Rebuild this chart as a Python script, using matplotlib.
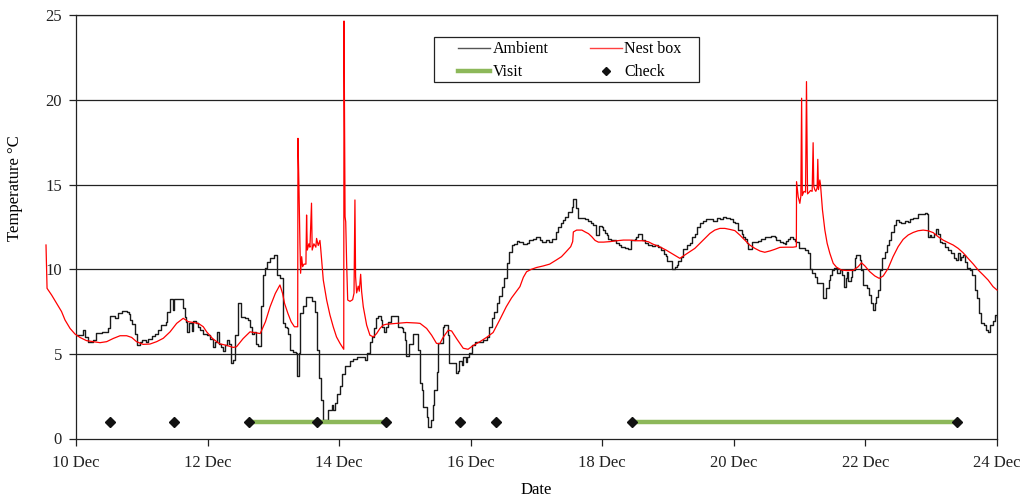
import matplotlib
matplotlib.use("Agg")
import matplotlib.pyplot as plt
from matplotlib.lines import Line2D
from matplotlib.patches import Rectangle

plt.rcParams['font.family'] = ['Liberation Serif', 'DejaVu Serif']

# ---------------- data (x in days of December) ----------------
amb_day = [10.00, 10.10, 10.14, 10.19, 10.26, 10.30, 10.40, 10.49, 10.52, 10.60, 10.64, 10.70,
           10.77, 10.80, 10.82, 10.85, 10.89, 10.92, 10.97, 11.01, 11.06, 11.10, 11.15, 11.20,
           11.25, 11.29, 11.37, 11.39, 11.43, 11.47, 11.49, 11.62, 11.65, 11.67, 11.69, 11.72,
           11.76, 11.78, 11.82, 11.86, 11.89, 11.935, 11.99, 12.04, 12.08, 12.11, 12.14, 12.17,
           12.21, 12.24, 12.26, 12.29, 12.33, 12.355, 12.39, 12.42, 12.47, 12.51, 12.57, 12.62,
           12.645, 12.67, 12.70, 12.74, 12.77, 12.81, 12.85, 12.88, 12.91, 12.95, 13.01, 13.06,
           13.10, 13.14, 13.17, 13.20, 13.23, 13.26, 13.30, 13.34, 13.353, 13.39, 13.41, 13.455,
           13.495, 13.58, 13.64, 13.67, 13.70, 13.73, 13.755, 13.835, 13.885, 13.91, 13.935,
           13.96, 14.01, 14.036, 14.087, 14.17, 14.21, 14.265, 14.39, 14.427, 14.468, 14.503,
           14.529, 14.559, 14.595, 14.63, 14.656, 14.686, 14.711, 14.747, 14.782, 14.888, 14.95,
           14.975, 15.00, 15.015, 15.066, 15.127, 15.193, 15.228, 15.254, 15.28, 15.33, 15.355,
           15.39, 15.42, 15.446, 15.48, 15.506, 15.572, 15.592, 15.648, 15.673, 15.77, 15.80,
           15.825, 15.86, 15.886, 15.926, 15.947, 15.972, 16.013, 16.064, 16.19, 16.24, 16.276,
           16.317, 16.352, 16.393, 16.428, 16.469, 16.504, 16.545, 16.585, 16.62, 16.656, 16.697,
           16.737, 16.788, 16.849, 16.89, 16.95, 16.99, 17.05, 17.09, 17.14, 17.19, 17.23,
           17.295, 17.33, 17.366, 17.396, 17.432, 17.472, 17.533, 17.558, 17.60, 17.635, 17.736,
           17.787, 17.822, 17.853, 17.903, 17.944, 17.99, 18.004, 18.04, 18.065, 18.09, 18.14,
           18.216, 18.257, 18.292, 18.343, 18.394, 18.429, 18.495, 18.52, 18.546, 18.597, 18.647,
           18.698, 18.749, 18.799, 18.85, 18.90, 18.936, 18.967, 18.987, 19.053, 19.104, 19.129,
           19.155, 19.19, 19.22, 19.29, 19.33, 19.37, 19.407, 19.443, 19.483, 19.524, 19.574,
           19.686, 19.737, 19.787, 19.838, 19.888, 19.939, 19.98, 20.015, 20.066, 20.117, 20.142,
           20.167, 20.193, 20.218, 20.27, 20.37, 20.42, 20.47, 20.52, 20.572, 20.623, 20.648,
           20.70, 20.75, 20.775, 20.80, 20.826, 20.85, 20.90, 20.927, 20.952, 20.993, 21.079,
           21.13, 21.155, 21.195, 21.236, 21.27, 21.353, 21.403, 21.44, 21.464, 21.49, 21.525,
           21.565, 21.606, 21.641, 21.672, 21.702, 21.722, 21.737, 21.788, 21.803, 21.839,
           21.864, 21.915, 21.94, 21.966, 22.026, 22.057, 22.092, 22.118, 22.143, 22.168, 22.193,
           22.229, 22.259, 22.295, 22.33, 22.36, 22.396, 22.431, 22.462, 22.512, 22.548, 22.60,
           22.65, 22.675, 22.726, 22.766, 22.80, 22.852, 22.903, 22.938, 22.953, 22.98, 23.00,
           23.04, 23.07, 23.105, 23.13, 23.17, 23.206, 23.257, 23.307, 23.343, 23.383, 23.41,
           23.434, 23.46, 23.485, 23.51, 23.546, 23.586, 23.627, 23.662, 23.698, 23.728, 23.764,
           23.799, 23.83, 23.865, 23.90, 23.94, 23.966, 24.00]
amb_val = [6.1, 6.4, 6.0, 5.7, 5.8, 6.25, 6.3, 6.5, 7.25, 7.1, 7.4, 7.55,
           7.45, 7.35, 7.0, 6.75, 6.2, 5.55, 5.7, 5.8, 5.7, 5.9, 6.05, 6.2,
           6.4, 6.7, 6.9, 7.5, 8.25, 7.6, 8.25, 7.7, 7.2, 6.9, 6.3, 6.8,
           6.35, 6.95, 6.8, 6.6, 6.4, 6.2, 6.1, 5.9, 5.42, 5.72, 6.3, 5.6,
           5.4, 5.18, 5.5, 5.8, 5.6, 4.48, 4.64, 6.1, 8.0, 7.2, 7.1, 7.0,
           6.6, 6.2, 6.3, 5.6, 5.46, 7.8, 9.65, 10.05, 10.45, 10.64, 10.84, 9.65,
           9.46, 6.84, 6.6, 6.5, 6.15, 5.23, 5.13, 5.03, 3.7, 5.03, 7.43, 7.8,
           8.33, 8.1, 7.5, 5.2, 3.6, 2.27, 1.1, 1.7, 2.0, 1.7, 2.1,
           2.6, 3.1, 3.8, 4.3, 4.55, 4.7, 4.8, 4.65, 5.03, 5.72, 6.0,
           6.5, 7.1, 7.25, 7.0, 6.6, 6.3, 6.6, 6.9, 7.23, 6.6, 6.5,
           6.3, 5.8, 4.87, 5.57, 6.17, 5.23, 3.26, 2.87, 1.88, 1.29, 0.66,
           1.09, 1.98, 2.87, 3.95, 5.62, 6.6, 6.7, 6.1, 4.44, 3.89, 4.0,
           4.6, 4.34, 4.83, 4.5, 4.83, 5.03, 5.52, 5.72, 5.8, 6.0, 6.6,
           7.1, 7.5, 8.0, 8.4, 8.97, 9.5, 10.34, 11.03, 11.42, 11.5, 11.67,
           11.6, 11.5, 11.52, 11.7, 11.76, 11.88, 11.72, 11.62, 11.72, 11.62, 11.76,
           12.2, 12.5, 12.75, 12.9, 13.1, 13.4, 13.7, 14.12, 13.6, 13.0, 12.95,
           12.87, 12.75, 12.6, 12.0, 12.55, 12.5, 12.3, 12.15, 12.0, 11.8, 11.72,
           11.52, 11.42, 11.33, 11.23, 11.17, 11.7, 11.8, 11.92, 12.1, 11.7, 11.55,
           11.42, 11.38, 11.42, 11.33, 11.13, 10.92, 10.78, 10.5, 10.0, 10.15, 10.25,
           10.5, 10.74, 11.17, 11.43, 11.57, 11.92, 12.1, 12.5, 12.75, 12.87, 12.94,
           12.87, 13.03, 12.94, 13.1, 13.0, 12.94, 12.8, 12.7, 12.3, 12.1, 11.92,
           11.76, 11.52, 11.17, 11.63, 11.68, 11.76, 11.88, 11.92, 11.96, 11.92, 11.72,
           11.63, 11.57, 11.48, 11.68, 11.76, 11.88, 11.76, 11.68, 11.63, 11.23, 11.13,
           10.93, 10.0, 9.75, 9.56, 9.16, 8.28, 8.87, 9.36, 9.66, 9.95, 10.1,
           9.76, 9.95, 9.66, 8.97, 9.46, 9.85, 9.32, 9.52, 9.95, 10.64,
           10.84, 10.54, 9.95, 9.07, 8.87, 8.48, 7.98, 7.59, 7.98, 8.38, 8.77,
           9.95, 10.64, 11.03, 11.43, 11.72, 12.21, 12.6, 12.9, 12.8, 12.75, 12.87,
           12.8, 12.94, 13.0, 13.05, 13.26, 13.26, 13.3, 13.26, 11.92, 12.0, 11.92,
           12.1, 12.35, 12.1, 11.63, 11.55, 11.33, 11.13, 10.93, 10.64, 10.54, 10.93,
           10.54, 10.74, 10.84, 10.44, 10.05, 9.95, 9.66, 8.77, 8.28, 7.39, 6.8,
           6.7, 6.41, 6.31, 6.7, 6.96, 7.3, 7.2]

nest_day = [9.544, 9.56, 9.63, 9.706, 9.78, 9.833, 9.91, 9.985, 10.06, 10.16, 10.26, 10.365,
            10.466, 10.567, 10.67, 10.77, 10.846, 10.92, 11.02, 11.125, 11.226, 11.327, 11.43,
            11.53, 11.63, 11.707, 11.78, 11.86, 11.935, 11.986, 12.077, 12.18, 12.29, 12.39,
            12.44, 12.54, 12.645, 12.72, 12.80, 12.88, 12.95, 13.03, 13.10, 13.14, 13.17, 13.22,
            13.27, 13.32, 13.37, 13.374, 13.389, 13.404, 13.414, 13.43, 13.445, 13.465, 13.495,
            13.505, 13.516, 13.54, 13.556, 13.58, 13.59, 13.616, 13.646, 13.657, 13.682, 13.708,
            13.718, 13.759, 13.81, 13.86, 13.91, 13.96, 14.013, 14.07, 14.074, 14.09, 14.10,
            14.114, 14.13, 14.165, 14.205, 14.226, 14.24, 14.25, 14.266, 14.29, 14.306, 14.327,
            14.342, 14.367, 14.418, 14.468, 14.52, 14.57, 14.62, 14.67, 14.72, 14.874, 15.026,
            15.18, 15.23, 15.33, 15.406, 15.48, 15.53, 15.58, 15.66, 15.71, 15.785, 15.886,
            15.96, 16.04, 16.14, 16.24, 16.34, 16.44, 16.54, 16.62, 16.748, 16.80, 16.849,
            16.92, 17.00, 17.10, 17.20, 17.30, 17.38, 17.45, 17.52, 17.55, 17.56, 17.61, 17.69,
            17.74, 17.79, 17.84, 17.89, 17.94, 18.02, 18.12, 18.22, 18.32, 18.42, 18.52, 18.62,
            18.70, 18.77, 18.87, 18.97, 19.07, 19.14, 19.18, 19.255, 19.33, 19.407, 19.483,
            19.56, 19.635, 19.71, 19.787, 19.863, 19.939, 20.015, 20.09, 20.167, 20.24, 20.32,
            20.40, 20.47, 20.55, 20.62, 20.70, 20.80, 20.90, 20.95, 20.953, 20.978, 21.003,
            21.018, 21.03, 21.04, 21.065, 21.09, 21.104, 21.12, 21.145, 21.165, 21.19, 21.205,
            21.215, 21.23, 21.246, 21.266, 21.276, 21.286, 21.307, 21.317, 21.347, 21.383,
            21.418, 21.459, 21.51, 21.56, 21.636, 21.712, 21.814, 21.89, 21.94, 21.99, 22.067,
            22.143, 22.209, 22.27, 22.345, 22.42, 22.497, 22.573, 22.65, 22.726, 22.80, 22.878,
            22.953, 23.03, 23.105, 23.18, 23.257, 23.333, 23.41, 23.485, 23.56, 23.64, 23.714,
            23.79, 23.865, 23.94, 24.00]
nest_val = [11.43, 8.87, 8.47, 7.98, 7.5, 7.0, 6.5, 6.17, 5.97, 5.78, 5.72, 5.66,
            5.72, 5.91, 6.07, 6.07, 5.97, 5.72, 5.56, 5.58, 5.72, 5.92, 6.3,
            6.8, 7.1, 6.9, 6.85, 6.8, 6.6, 6.3, 5.9, 5.6, 5.5, 5.38,
            5.42, 5.9, 6.3, 6.25, 6.2, 6.9, 7.78, 8.57, 9.07, 8.57, 7.98, 7.4,
            6.9, 6.6, 6.6, 17.73, 14.87, 11.5, 9.76, 10.74, 10.15, 10.3, 10.3,
            13.2, 11.13, 11.5, 11.3, 13.9, 11.13, 11.5, 11.3, 11.82, 11.4, 11.7,
            11.3, 9.36, 8.18, 7.3, 6.6, 6.0, 5.62, 5.27, 24.66, 13.1, 12.8,
            10.35, 8.18, 8.1, 8.2, 8.58, 14.09, 9.56, 8.6, 9.0, 8.7, 9.7,
            8.67, 7.78, 6.7, 6.1, 6.0, 6.2, 6.5, 6.7, 6.75, 6.8, 6.85,
            6.82, 6.8, 6.5, 6.1, 5.62, 5.6, 5.97, 6.4, 6.35, 5.9, 5.33,
            5.27, 5.5, 5.72, 5.97, 6.26, 7.0, 7.78, 8.3, 8.97, 9.52, 9.85,
            9.99, 10.1, 10.19, 10.3, 10.54, 10.74, 11.03, 11.33, 11.63, 12.2, 12.31, 12.31,
            12.2, 12.1, 11.92, 11.7, 11.6, 11.6, 11.63, 11.68, 11.72, 11.72, 11.68, 11.68,
            11.62, 11.48, 11.33, 11.13, 10.9, 10.74, 10.64, 10.84, 11.03, 11.23, 11.52,
            11.82, 12.11, 12.31, 12.41, 12.41, 12.35, 12.28, 12.02, 11.72, 11.43, 11.23,
            11.07, 11.0, 11.08, 11.17, 11.29, 11.3, 11.3, 11.33, 15.17, 14.28, 13.89,
            14.3, 20.1, 14.35, 14.6, 14.55, 21.08, 14.45, 14.55, 14.65, 14.6, 17.47,
            14.9, 14.7, 14.6, 14.8, 16.49, 14.7, 15.27, 15.0, 13.5, 12.32,
            11.53, 10.94, 10.35, 10.12, 9.95, 9.92, 9.93, 10.15, 10.38, 10.2, 9.85,
            9.6, 9.46, 9.6, 10.05, 10.74, 11.33, 11.76, 12.02, 12.17, 12.27, 12.31,
            12.27, 12.16, 11.92, 11.72, 11.57, 11.43, 11.23, 10.97, 10.64, 10.3, 9.95,
            9.66, 9.36, 8.97, 8.77]

check_day = [10.517, 11.49, 12.634, 13.657, 14.707, 15.836, 16.39, 18.445, 23.394]
check_val = [1, 1, 1, 1, 1, 1, 1, 1, 1]
visit_start = [12.634, 18.445]
visit_end = [14.707, 23.394]
visit_level = 1

x_ticks = [10, 12, 14, 16, 18, 20, 22, 24]
x_ticklabels = ['10 Dec', '12 Dec', '14 Dec', '16 Dec', '18 Dec', '20 Dec', '22 Dec', '24 Dec']
y_ticks = [0, 5, 10, 15, 20, 25]

# ---------------- figure ----------------
W, H = 1036, 501
fig = plt.figure(figsize=(W / 100, H / 100), dpi=100)
ax = fig.add_axes([76 / W, 1 - 438.5 / H, (997 - 76) / W, (438.5 - 15.25) / H])

for y in y_ticks[1:]:
    ax.axhline(y, color='#222222', lw=0.9, zorder=1)

ax.step(amb_day, amb_val, where='post', color='#1a1a1a', lw=1.0, zorder=3)
ax.plot(nest_day, nest_val, color='#ff0000', lw=0.9, zorder=4, clip_on=False)

green = '#8db85a'
for s, e in zip(visit_start, visit_end):
    ax.plot([s, e], [visit_level, visit_level], color=green, lw=3.2, zorder=5,
            solid_capstyle='butt')
ax.plot(check_day, check_val, linestyle='none', marker='D', markersize=5,
        color='#111111', zorder=6)

ax.set_xlim(10, 24)
ax.set_ylim(0, 25)
ax.set_xticks(x_ticks)
ax.set_xticklabels(x_ticklabels)
ax.set_yticks(y_ticks)
ax.tick_params(axis='both', direction='out', length=5, width=0.9, labelsize=12,
               colors='#222222')
ax.tick_params(axis='x', pad=7)
ax.tick_params(axis='y', pad=5)
for sp in ax.spines.values():
    sp.set_color('#222222')
    sp.set_linewidth(0.9)

ax.set_xlabel('Date', fontsize=12)
ax.xaxis.set_label_coords(0.5, -0.103)
ax.set_ylabel('Temperature °C', fontsize=12)
ax.yaxis.set_label_coords(-0.0575, 0.592)

# legend with manual frame
fig.patches.append(Rectangle((434 / W, 1 - 82 / H), (699 - 434) / W, (82 - 37) / H,
                             transform=fig.transFigure, facecolor='white',
                             edgecolor='#222222', lw=0.9, zorder=10))
handles = [Line2D([], [], color='#555555', lw=1.0),
           Line2D([], [], color='#ff4040', lw=1.0),
           Line2D([], [], color=green, lw=3.2),
           Line2D([], [], color='#111111', marker='D', markersize=4.5, linestyle='none')]
labels = ['Ambient', 'Nest box', 'Visit', 'Check']
order = [0, 2, 1, 3]
leg = fig.legend([handles[i] for i in order], [labels[i] for i in order], ncol=2,
                 loc='upper left', bbox_to_anchor=(455 / W, 1 - 38 / H),
                 frameon=False, fontsize=11.5, handlelength=2.0, handletextpad=0.15,
                 columnspacing=2.6, labelspacing=0.45, borderpad=0.2, borderaxespad=0)
leg.set_zorder(11)

fig.savefig('out.png', dpi=100)
